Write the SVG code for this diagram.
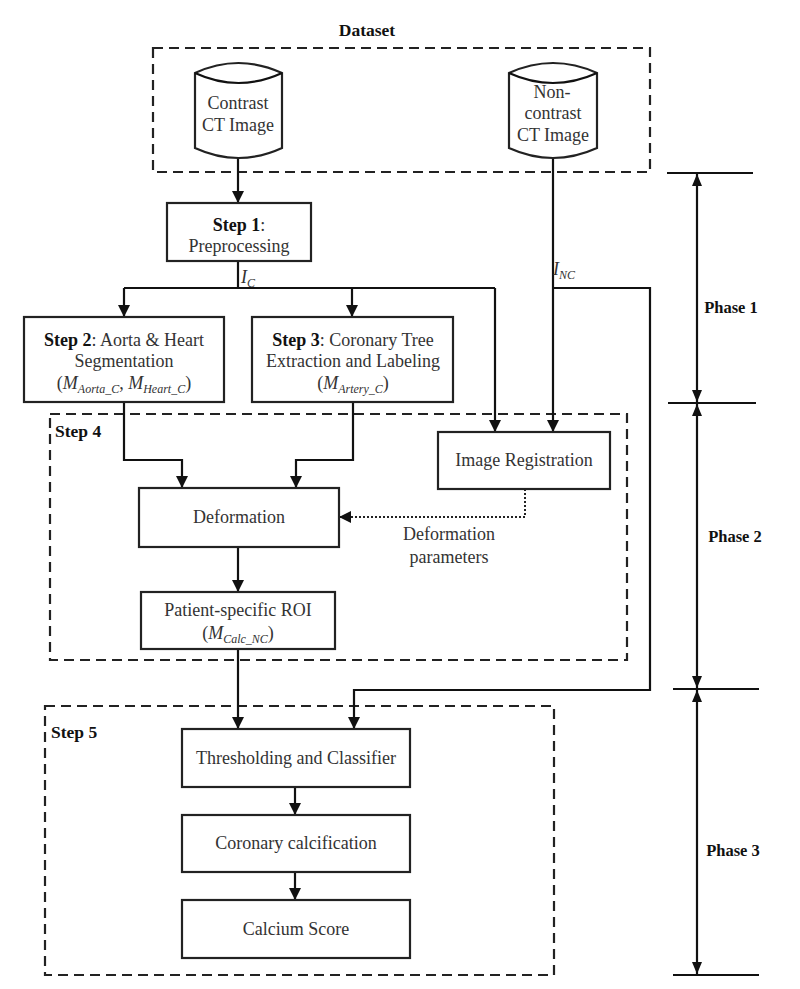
<svg xmlns="http://www.w3.org/2000/svg" width="800" height="989" viewBox="0 0 800 989">
<defs>
<style>
.t{font-family:"Liberation Serif","Times New Roman",serif;font-size:18px;fill:#333;text-anchor:middle}
.b{font-family:"Liberation Serif","Times New Roman",serif;font-weight:bold;fill:#111}
.i{font-style:italic}
.s{font-style:italic;font-size:12px}
.box{fill:#fff;stroke:#222;stroke-width:2.2}
.dash{fill:none;stroke:#222;stroke-width:2.2;stroke-dasharray:10,6}
.ln{fill:none;stroke:#111;stroke-width:2.2}
.dot{fill:none;stroke:#222;stroke-width:2;stroke-dasharray:2,2}
</style>
<marker id="ah" viewBox="0 0 12 12" refX="12" refY="6" markerWidth="12" markerHeight="12" markerUnits="userSpaceOnUse" orient="auto"><path d="M0,0 L12,6 L0,12 z" fill="#111"/></marker>
<marker id="ph" viewBox="0 0 12 10" refX="12" refY="5" markerWidth="12" markerHeight="10" markerUnits="userSpaceOnUse" orient="auto-start-reverse"><path d="M0,0 L12,5 L0,10 z" fill="#111"/></marker>
</defs>
<rect width="800" height="989" fill="#fff"/>

<g id="dataset">
<text class="b" x="367" y="36" font-size="17.5" text-anchor="middle">Dataset</text>
<rect class="dash" x="153" y="48" width="497" height="124"/>
</g>
<g id="step4-frame">
<rect class="dash" x="50" y="414" width="577" height="246"/>
<text class="b" x="55" y="437" font-size="17.5">Step 4</text>
</g>
<g id="step5-frame">
<rect class="dash" x="45" y="706" width="509" height="269"/>
<text class="b" x="51" y="738" font-size="17.5">Step 5</text>
</g>

<g id="connectors">
<path class="ln" d="M238,158 L238,203" marker-end="url(#ah)"/>
<path class="ln" d="M238,261 L238,288 M124,288 L495,288"/>
<path class="ln" d="M124,288 L124,317" marker-end="url(#ah)"/>
<path class="ln" d="M352,288 L352,317" marker-end="url(#ah)"/>
<path class="ln" d="M495,288 L495,432" marker-end="url(#ah)"/>
<path class="ln" d="M553,158 L553,432" marker-end="url(#ah)"/>
<path class="ln" d="M553,288 L650,288 L650,690 L354,690 L354,729" marker-end="url(#ah)"/>
<path class="ln" d="M124,402 L124,460 L182,460 L182,488" marker-end="url(#ah)"/>
<path class="ln" d="M353,402 L353,460 L296,460 L296,488" marker-end="url(#ah)"/>
<path class="dot" d="M525,489 L525,517 L339,517" marker-end="url(#ah)"/>
<path class="ln" d="M238,547 L238,592" marker-end="url(#ah)"/>
<path class="ln" d="M238,649 L238,729" marker-end="url(#ah)"/>
<path class="ln" d="M295,787 L295,815" marker-end="url(#ah)"/>
<path class="ln" d="M295,872 L295,900" marker-end="url(#ah)"/>
<text class="t" x="248" y="283" text-anchor="start"><tspan class="i">I</tspan><tspan class="s" dy="4">C</tspan></text>
<text class="t" x="564" y="275" text-anchor="start"><tspan class="i">I</tspan><tspan class="s" dy="4">NC</tspan></text>
<text class="t" x="449" y="540">Deformation</text>
<text class="t" x="449" y="563">parameters</text>
</g>

<g id="contrast-ct">
<path class="box" d="M195,73 L195,148 Q238.5,168 282,148 L282,73 Q238.5,53 195,73 Z"/>
<path class="ln" d="M195,73 Q238.5,93 282,73" stroke="#222"/>
<text class="t" x="238" y="109">Contrast</text>
<text class="t" x="238" y="131">CT Image</text>
</g>
<g id="noncontrast-ct">
<path class="box" d="M509,73 L509,148 Q553,168 597,148 L597,73 Q553,53 509,73 Z"/>
<path class="ln" d="M509,73 Q553,93 597,73" stroke="#222"/>
<text class="t" x="552" y="98">Non-</text>
<text class="t" x="553" y="119">contrast</text>
<text class="t" x="553" y="141">CT Image</text>
</g>

<g id="step1">
<rect class="box" x="167" y="203" width="144" height="58"/>
<text class="t" x="239" y="231"><tspan font-weight="bold" fill="#111">Step 1</tspan>:</text>
<text class="t" x="239" y="252">Preprocessing</text>
</g>
<g id="step2">
<rect class="box" x="24" y="317" width="200" height="85"/>
<text class="t" x="124" y="346"><tspan font-weight="bold" fill="#111">Step 2</tspan>: Aorta &amp; Heart</text>
<text class="t" x="124" y="367">Segmentation</text>
<text class="t" x="124" y="389">(<tspan class="i">M</tspan><tspan class="s" dy="4">Aorta_C</tspan><tspan dy="-4">, </tspan><tspan class="i">M</tspan><tspan class="s" dy="4">Heart_C</tspan><tspan dy="-4">)</tspan></text>
</g>
<g id="step3">
<rect class="box" x="252" y="317" width="201" height="85"/>
<text class="t" x="353" y="346"><tspan font-weight="bold" fill="#111">Step 3</tspan>: Coronary Tree</text>
<text class="t" x="353" y="367">Extraction and Labeling</text>
<text class="t" x="353" y="389">(<tspan class="i">M</tspan><tspan class="s" dy="4">Artery_C</tspan><tspan dy="-4">)</tspan></text>
</g>
<g id="image-registration">
<rect class="box" x="438" y="432" width="172" height="57"/>
<text class="t" x="524" y="466">Image Registration</text>
</g>
<g id="deformation">
<rect class="box" x="139" y="488" width="200" height="59"/>
<text class="t" x="239" y="523">Deformation</text>
</g>
<g id="roi">
<rect class="box" x="141" y="592" width="194" height="57"/>
<text class="t" x="238" y="616">Patient-specific ROI</text>
<text class="t" x="238" y="639">(<tspan class="i">M</tspan><tspan class="s" dy="4">Calc_NC</tspan><tspan dy="-4">)</tspan></text>
</g>
<g id="thresholding">
<rect class="box" x="182" y="729" width="228" height="58"/>
<text class="t" x="296" y="764">Thresholding and Classifier</text>
</g>
<g id="calcification">
<rect class="box" x="182" y="815" width="228" height="57"/>
<text class="t" x="296" y="849">Coronary calcification</text>
</g>
<g id="calcium-score">
<rect class="box" x="182" y="900" width="228" height="58"/>
<text class="t" x="296" y="935">Calcium Score</text>
</g>

<g id="phases">
<path class="ln" d="M667,173 L753,173 M668,403 L756,403 M673,689 L759,689 M673,975 L759,975"/>
<path class="ln" d="M697,174 L697,402" marker-start="url(#ph)" marker-end="url(#ph)"/>
<path class="ln" d="M697,404 L697,688" marker-start="url(#ph)" marker-end="url(#ph)"/>
<path class="ln" d="M697,690 L697,974" marker-start="url(#ph)" marker-end="url(#ph)"/>
<text class="b" x="731" y="313" font-size="16.5" text-anchor="middle">Phase 1</text>
<text class="b" x="735" y="542" font-size="16.5" text-anchor="middle">Phase 2</text>
<text class="b" x="733" y="856" font-size="16.5" text-anchor="middle">Phase 3</text>
</g>
</svg>
